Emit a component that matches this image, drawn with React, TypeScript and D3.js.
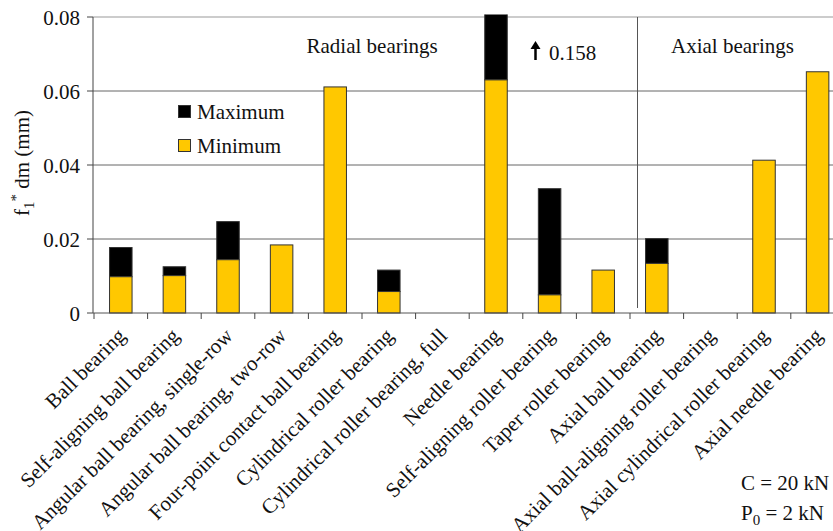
import React from "react";
import * as d3 from "d3";

// Bearing types along the x axis
const categories = [
  "Ball bearing",
  "Self-aligning ball bearing",
  "Angular ball bearing, single-row",
  "Angular ball bearing, two-row",
  "Four-point contact ball bearing",
  "Cylindrical roller bearing",
  "Cylindrical roller bearing, full",
  "Needle bearing",
  "Self-aligning roller bearing",
  "Taper roller bearing",
  "Axial ball bearing",
  "Axial ball-aligning roller bearing",
  "Axial cylindrical roller bearing",
  "Axial needle bearing",
];

// f1 * dm in mm
const minimumValues = [0.0098, 0.0101, 0.0144, 0.0184, 0.0611, 0.0058, 0, 0.063, 0.0049, 0.0116, 0.0134, 0, 0.0413, 0.0652];
const maximumValues = [0.0177, 0.0125, 0.0247, 0.0184, 0.0611, 0.0116, 0, 0.158, 0.0336, 0.0116, 0.0201, 0, 0.0413, 0.0652];

const yTicks = [0, 0.02, 0.04, 0.06, 0.08];
const yTickLabels = ["0", "0.02", "0.04", "0.06", "0.08"];

const W = 833;
const H = 531;
const FONT = '"Liberation Serif", "Times New Roman", Times, "DejaVu Serif", serif';
const GOLD = "#FFC800";

export default function App() {
  const left = 94;
  const step = 53.6;
  const right = left + step * categories.length;
  const top = 17;
  const bottom = 313;

  const x = d3
    .scaleBand<string>()
    .domain(categories)
    .range([left, right])
    .paddingInner(0.58)
    .paddingOuter(0.29);
  const y = d3.scaleLinear().domain([0, 0.08]).range([bottom, top]);
  const bw = x.bandwidth();

  const boundaries = d3.range(categories.length + 1).map((i) => left + i * x.step());
  const separatorX = 637.5;
  const txt = { fontFamily: FONT, fontSize: 21, fill: "#111" } as const;

  return (
    <svg
      width={W}
      height={H}
      style={{ position: "absolute", left: 0, top: 0, background: "#fff", fontFamily: FONT }}
    >
      <defs>
        <clipPath id="plot-clip">
          <rect x={0} y={14.5} width={W} height={bottom - 14.5 + 1} />
        </clipPath>
      </defs>

      {/* horizontal gridlines */}
      {yTicks.slice(1).map((t) => (
        <line
          key={t}
          x1={left - 1}
          x2={W}
          y1={y(t)}
          y2={y(t)}
          stroke={t === 0.08 ? "#999" : "#666"}
          strokeWidth={1}
        />
      ))}

      {/* radial / axial separator */}
      <line x1={separatorX} x2={separatorX} y1={top} y2={bottom - 5} stroke="#555" strokeWidth={1} />

      {/* bars */}
      <g clipPath="url(#plot-clip)">
        {categories.map((c, i) => {
          const lo = minimumValues[i];
          const hi = maximumValues[i];
          const bx = x(c)!;
          return (
            <g key={c}>
              {hi > lo && (
                <rect
                  x={bx}
                  y={y(hi)}
                  width={bw}
                  height={y(lo) - y(hi)}
                  fill="#000"
                  stroke="#333"
                  strokeWidth={1}
                />
              )}
              {lo > 0 && (
                <rect
                  x={bx}
                  y={y(lo)}
                  width={bw}
                  height={y(0) - y(lo)}
                  fill={GOLD}
                  stroke="#333"
                  strokeWidth={1}
                />
              )}
            </g>
          );
        })}
      </g>

      {/* y axis */}
      <line x1={left - 1} x2={left - 1} y1={top} y2={bottom} stroke="#444" strokeWidth={1} />
      {yTicks.map((t, i) => (
        <g key={t}>
          <line x1={left - 7} x2={left - 1} y1={y(t)} y2={y(t)} stroke="#444" strokeWidth={1} />
          <text x={80} y={y(t) + 8} textAnchor="end" style={txt}>
            {yTickLabels[i]}
          </text>
        </g>
      ))}

      {/* x axis */}
      <line x1={left - 1} x2={W} y1={bottom} y2={bottom} stroke="#555" strokeWidth={1} />
      {boundaries.map((bx, i) => (
        <line key={i} x1={bx} x2={bx} y1={bottom} y2={bottom + 6} stroke="#444" strokeWidth={1} />
      ))}

      {/* category labels */}
      {categories.map((c) => {
        const cx = x(c)! + bw / 2 + 6;
        const cy = 337;
        return (
          <text
            key={c}
            x={cx}
            y={cy}
            transform={`rotate(-45 ${cx} ${cy})`}
            textAnchor="end"
            style={txt}
          >
            {c}
          </text>
        );
      })}

      {/* y axis title */}
      <text transform="translate(29 163) rotate(-90)" textAnchor="middle" style={txt}>
        <tspan>f</tspan>
        <tspan dy={5} style={{ fontSize: 15 }}>1</tspan>
        <tspan dy={-13} style={{ fontSize: 15 }}>*</tspan>
        <tspan dy={8}> dm (mm)</tspan>
      </text>

      {/* legend */}
      <rect x={178.5} y={105.5} width={12} height={12} fill="#000" stroke="#333" />
      <text x={197} y={119} style={txt}>Maximum</text>
      <rect x={178.5} y={139.5} width={12} height={12} fill={GOLD} stroke="#333" />
      <text x={197} y={153} style={txt}>Minimum</text>

      {/* group captions */}
      <text x={306.5} y={53} style={txt}>Radial bearings</text>
      <text x={671} y={53} style={txt}>Axial bearings</text>

      {/* off-scale value of the needle bearing maximum */}
      <line x1={535.5} x2={535.5} y1={47} y2={60} stroke="#000" strokeWidth={2.5} />
      <path d="M 530.5 49 L 535.5 41 L 540.5 49 Z" fill="#000" />
      <text x={549} y={60} style={txt}>
        {maximumValues[7].toFixed(3)}
      </text>

      {/* load conditions */}
      <text x={741} y={490} style={txt}>C = 20 kN</text>
      <text x={741} y={520} style={txt}>
        <tspan>P</tspan>
        <tspan dy={5} style={{ fontSize: 15 }}>0</tspan>
        <tspan dy={-5}> = 2 kN</tspan>
      </text>
    </svg>
  );
}
